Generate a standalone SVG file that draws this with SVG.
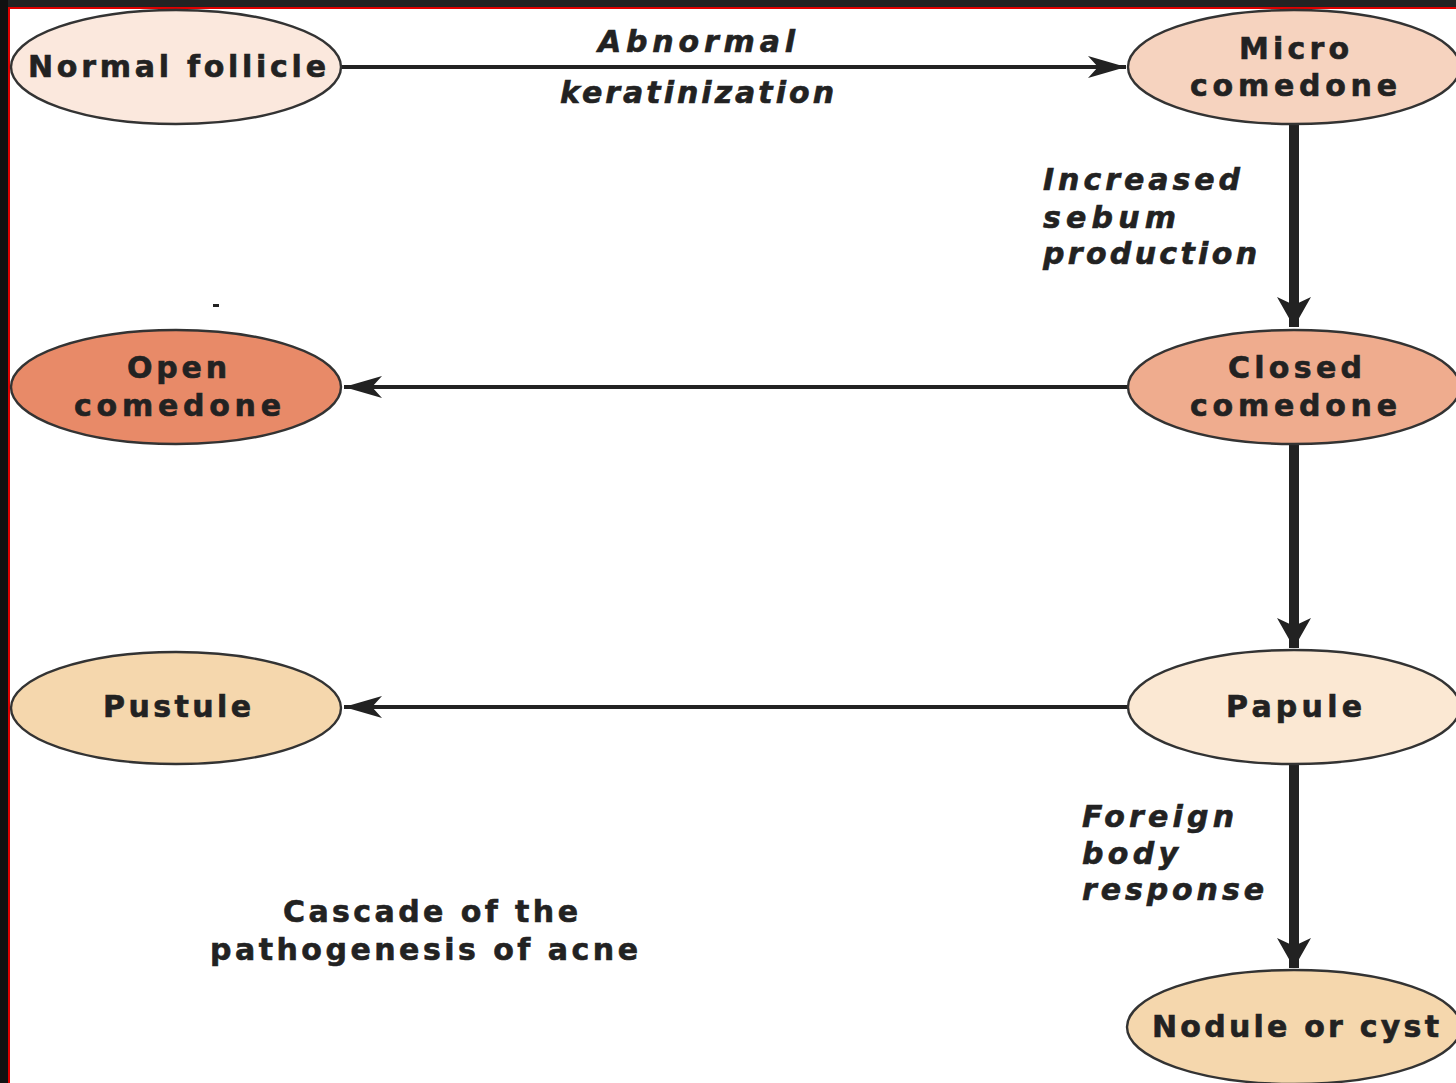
<svg xmlns="http://www.w3.org/2000/svg" width="1456" height="1083" viewBox="0 0 1456 1083">
<defs>
<style>
.node ellipse{stroke:#333;stroke-width:2.4}
.lbl{font-family:"DejaVu Sans","Liberation Sans",Arial,sans-serif;font-weight:bold;font-size:30px;fill:#222;stroke:#222;stroke-width:0.6}
.it{font-family:"DejaVu Sans","Liberation Sans",Arial,sans-serif;font-weight:bold;font-style:italic;font-size:30px;fill:#222;stroke:#222;stroke-width:0.6}
.thin{stroke:#222;stroke-width:4;fill:none}
.thick{stroke:#222;stroke-width:10;fill:none}
</style>
<marker id="ah" markerUnits="userSpaceOnUse" markerWidth="42" markerHeight="26" viewBox="-40 -13 42 26" refX="0" refY="0" orient="auto">
<path d="M0,0 L-38,-11 L-28,0 L-38,11 Z" fill="#222"/>
</marker>
<marker id="ahb" markerUnits="userSpaceOnUse" markerWidth="40" markerHeight="40" viewBox="-34 -20 36 40" refX="0" refY="0" orient="auto">
<path d="M0,0 L-30,-17 L-22,0 L-30,17 Z" fill="#222"/>
</marker>
</defs>
<rect width="1456" height="1083" fill="#ffffff"/>
<g id="frame">
<rect x="0" y="0" width="1456" height="7" fill="#232323"/>
<rect x="0" y="0" width="8" height="1083" fill="#111"/>
<rect x="8" y="7" width="1448" height="2" fill="#e00000"/>
<rect x="8" y="7" width="2" height="1076" fill="#e00000"/>
</g>
<g id="connectors">
<line class="thin" x1="341" y1="67" x2="1126" y2="67" marker-end="url(#ah)"/>
<line class="thick" x1="1294" y1="124" x2="1294" y2="327" marker-end="url(#ahb)"/>
<line class="thin" x1="1128" y1="387" x2="344" y2="387" marker-end="url(#ah)"/>
<line class="thick" x1="1294" y1="445" x2="1294" y2="648" marker-end="url(#ahb)"/>
<line class="thin" x1="1128" y1="707" x2="344" y2="707" marker-end="url(#ah)"/>
<line class="thick" x1="1294" y1="765" x2="1294" y2="968" marker-end="url(#ahb)"/>
</g>
<g id="n-normal" class="node">
<ellipse cx="176" cy="67" rx="165" ry="57" fill="#fbe8dd"/>
<text class="lbl" x="28" y="77" textLength="298" lengthAdjust="spacing">Normal follicle</text>
</g>
<g id="n-micro" class="node">
<ellipse cx="1294" cy="67" rx="166" ry="57" fill="#f6d3bf"/>
<text class="lbl" x="1239" y="59" textLength="110" lengthAdjust="spacing">Micro</text>
<text class="lbl" x="1190" y="96" textLength="207" lengthAdjust="spacing">comedone</text>
</g>
<g id="n-open" class="node">
<ellipse cx="176" cy="387" rx="165" ry="57" fill="#e88a68"/>
<text class="lbl" x="127" y="378" textLength="100" lengthAdjust="spacing">Open</text>
<text class="lbl" x="74" y="416" textLength="207" lengthAdjust="spacing">comedone</text>
</g>
<g id="n-closed" class="node">
<ellipse cx="1294" cy="387" rx="166" ry="57" fill="#efac8e"/>
<text class="lbl" x="1228" y="378" textLength="134" lengthAdjust="spacing">Closed</text>
<text class="lbl" x="1190" y="416" textLength="207" lengthAdjust="spacing">comedone</text>
</g>
<g id="n-pustule" class="node">
<ellipse cx="176" cy="708" rx="165" ry="56" fill="#f5d7ad"/>
<text class="lbl" x="103" y="717" textLength="148" lengthAdjust="spacing">Pustule</text>
</g>
<g id="n-papule" class="node">
<ellipse cx="1294" cy="707" rx="166" ry="57" fill="#fbe8d3"/>
<text class="lbl" x="1226" y="717" textLength="136" lengthAdjust="spacing">Papule</text>
</g>
<g id="n-nodule" class="node">
<ellipse cx="1294" cy="1027" rx="167" ry="57" fill="#f5d7ad"/>
<text class="lbl" x="1152" y="1037" textLength="287" lengthAdjust="spacing">Nodule or cyst</text>
</g>
<g id="labels">
<text class="it" x="598" y="52" textLength="197" lengthAdjust="spacing">Abnormal</text>
<text class="it" x="560" y="103" textLength="274" lengthAdjust="spacing">keratinization</text>
<text class="it" x="1043" y="190" textLength="197" lengthAdjust="spacing">Increased</text>
<text class="it" x="1043" y="228" textLength="133" lengthAdjust="spacing">sebum</text>
<text class="it" x="1043" y="264" textLength="214" lengthAdjust="spacing">production</text>
<text class="it" x="1082" y="827" textLength="152" lengthAdjust="spacing">Foreign</text>
<text class="it" x="1082" y="864" textLength="96" lengthAdjust="spacing">body</text>
<text class="it" x="1082" y="900" textLength="182" lengthAdjust="spacing">response</text>
<text class="lbl" x="283" y="922" textLength="295" lengthAdjust="spacing">Cascade of the</text>
<text class="lbl" x="210" y="960" textLength="428" lengthAdjust="spacing">pathogenesis of acne</text>
<rect x="213" y="304" width="6" height="3" fill="#222"/>
</g>
</svg>
